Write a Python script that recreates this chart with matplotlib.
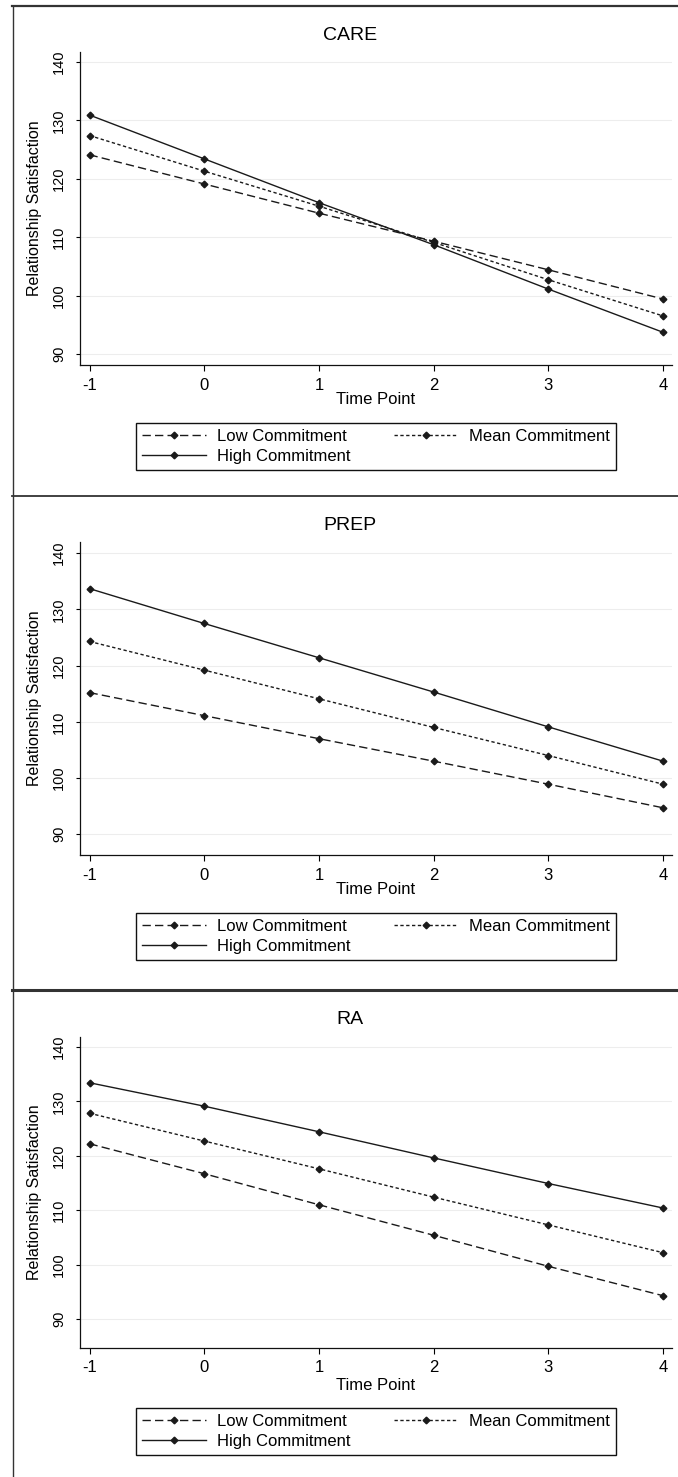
import matplotlib
matplotlib.use("Agg")
import matplotlib.pyplot as plt
from matplotlib.lines import Line2D

plt.rcParams["font.family"] = ["Liberation Sans", "DejaVu Sans"]
plt.rcParams["lines.scale_dashes"] = False

# data
time = [-1, 0, 1, 2, 3, 4]
panels = ["CARE", "PREP", "RA"]
series_names = ["Low Commitment", "Mean Commitment", "High Commitment"]

care_low  = [124.1, 119.1, 114.1, 109.3, 104.4, 99.4]
care_mean = [127.4, 121.3, 115.3, 109.1, 102.7, 96.5]
care_high = [130.9, 123.4, 115.9, 108.7, 101.1, 93.7]

prep_low  = [115.2, 111.1, 107.0, 103.0, 98.9, 94.7]
prep_mean = [124.3, 119.2, 114.1, 109.0, 104.0, 98.9]
prep_high = [133.7, 127.5, 121.4, 115.3, 109.1, 103.0]

ra_low  = [122.2, 116.7, 111.0, 105.4, 99.7, 94.3]
ra_mean = [127.8, 122.7, 117.6, 112.4, 107.3, 102.2]
ra_high = [133.4, 129.1, 124.4, 119.6, 114.9, 110.4]

yticks = [90, 100, 110, 120, 130, 140]

values = {
    "CARE": (care_low, care_mean, care_high),
    "PREP": (prep_low, prep_mean, prep_high),
    "RA":   (ra_low, ra_mean, ra_high),
}

W, H = 678, 1477
fx = lambda px: px / W
fy = lambda py: 1 - py / H

# layout in pixels: axes top, axes bottom, y-limits, title y, xlabel y, legend top/bottom
layout = {
    "CARE": dict(top=52,   bot=365,  ylim=(88.1, 141.7), title=35,   xlab=400,  leg=(419, 474)),
    "PREP": dict(top=542,  bot=855,  ylim=(86.3, 142.0), title=525,  xlab=890,  leg=(909, 964)),
    "RA":   dict(top=1037, bot=1348, ylim=(84.7, 141.8), title=1020, xlab=1385, leg=(1404, 1459)),
}
AX_L, AX_R = 80, 672
LC = "#1a1a1a"

styles = [
    dict(ls=(0, (6, 3)), label=series_names[0]),
    dict(ls=(0, (2.4, 1.8)), label=series_names[1]),
    dict(ls="-", label=series_names[2]),
]

fig = plt.figure(figsize=(W / 100, H / 100), dpi=100)

for name in panels:
    g = layout[name]
    ax = fig.add_axes([fx(AX_L), fy(g["bot"]), (AX_R - AX_L) / W, (g["bot"] - g["top"]) / H])
    lines = []
    for ys, st in zip(values[name], styles):
        ln, = ax.plot(time, ys, color=LC, lw=1.0, linestyle=st["ls"], marker="D",
                      ms=3.4, mfc=LC, mec=LC, label=st["label"])
        lines.append(ln)
    ax.set_xlim(-1.083, 4.078)
    ax.set_ylim(*g["ylim"])
    ax.set_xticks(time)
    ax.set_xticklabels([str(t) for t in time])
    ax.set_yticks(yticks)
    ax.tick_params(axis="x", direction="out", length=4, width=0.8, pad=5, labelsize=12)
    ax.tick_params(axis="y", direction="out", length=3, width=0.8, pad=7, labelsize=10.5,
                   labelrotation=90)
    for lab in ax.get_yticklabels():
        lab.set_va("center")
    ax.grid(axis="y", color="#ededed", lw=0.8)
    ax.set_axisbelow(True)
    for s in ["top", "right"]:
        ax.spines[s].set_visible(False)
    for s in ["left", "bottom"]:
        ax.spines[s].set_linewidth(0.9)
        ax.spines[s].set_color("#111111")

    ax.set_ylabel("Relationship Satisfaction", fontsize=11.5)
    ax.yaxis.set_label_coords((35 - AX_L) / (AX_R - AX_L), 0.5)
    ax.yaxis.label.set_va("center")

    fig.text(fx(376), fy(g["xlab"]), "Time Point", fontsize=12, ha="center", va="center")
    fig.text(fx(350), fy(g["title"]), name, fontsize=14, ha="center", va="center")

    lt, lb = g["leg"]
    # column-wise fill: Low, High in the first column, Mean in the second
    order = [lines[0], lines[2], lines[1]]
    leg = fig.legend(order, [l.get_label() for l in order], ncol=2,
                     bbox_to_anchor=(fx(136), fy(lb), (616 - 136) / W, (lb - lt) / H),
                     loc="center", mode="expand", fontsize=12, frameon=True,
                     fancybox=False, edgecolor="#111111", framealpha=1,
                     handlelength=3.85, handletextpad=0.65, numpoints=1,
                     labelspacing=0.3, borderpad=0.35, borderaxespad=0)
    leg.get_frame().set_linewidth(1.0)

# panel frames
fig.add_artist(Line2D([fx(12.5), fx(12.5)], [fy(6), 0], color="#333333", lw=1.0))
fig.add_artist(Line2D([fx(12), 1], [fy(6), fy(6)], color="#333333", lw=1.6))
fig.add_artist(Line2D([fx(12), 1], [fy(496), fy(496)], color="#333333", lw=1.3))
fig.add_artist(Line2D([fx(12), 1], [fy(990), fy(990)], color="#333333", lw=2.2))

fig.savefig("out.png", dpi=100)
